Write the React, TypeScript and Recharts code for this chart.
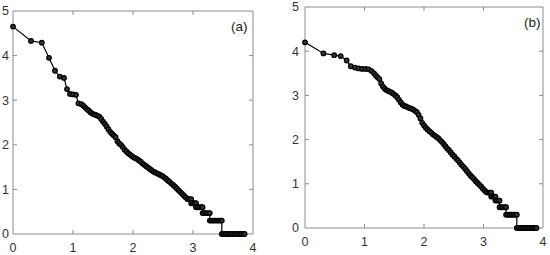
import React from 'react';
import { LineChart, Line, XAxis, YAxis, ReferenceLine } from 'recharts';

const xTicks = [0, 1, 2, 3, 4];
const yTicks = [0, 1, 2, 3, 4, 5];

const seriesA: [number, number][] = [
  [0, 4.65], [0.3, 4.33], [0.48, 4.29], [0.6, 3.95], [0.7, 3.66], [0.78, 3.53], [0.85, 3.5], [0.9, 3.25],
  [0.95, 3.14], [1.0, 3.13], [1.05, 3.12], [1.09, 2.93], [1.14, 2.91], [1.17, 2.88], [1.2, 2.84], [1.23, 2.8],
  [1.26, 2.77], [1.29, 2.73], [1.32, 2.7], [1.35, 2.68], [1.38, 2.67], [1.41, 2.65], [1.44, 2.63], [1.47, 2.58],
  [1.5, 2.52], [1.53, 2.47], [1.56, 2.41], [1.59, 2.35], [1.62, 2.29], [1.65, 2.25], [1.68, 2.21], [1.71, 2.17],
  [1.74, 2.08], [1.77, 2.03], [1.8, 2.0], [1.83, 1.95], [1.86, 1.89], [1.89, 1.85], [1.92, 1.81], [1.95, 1.78],
  [1.98, 1.75], [2.01, 1.72], [2.04, 1.7], [2.07, 1.68], [2.1, 1.65], [2.13, 1.62], [2.16, 1.58], [2.19, 1.55],
  [2.22, 1.52], [2.25, 1.49], [2.28, 1.46], [2.31, 1.43], [2.34, 1.4], [2.37, 1.38], [2.4, 1.36], [2.43, 1.34],
  [2.46, 1.32], [2.49, 1.3], [2.52, 1.27], [2.55, 1.24], [2.58, 1.2], [2.61, 1.17], [2.64, 1.13], [2.67, 1.1],
  [2.7, 1.06], [2.73, 1.02], [2.76, 0.98], [2.79, 0.94], [2.82, 0.9], [2.85, 0.86], [2.88, 0.82], [2.91, 0.78],
  [2.94, 0.78], [2.97, 0.78], [2.97, 0.69], [3.0, 0.69], [3.03, 0.69], [3.05, 0.69], [3.05, 0.6], [3.08, 0.6],
  [3.11, 0.6], [3.14, 0.6], [3.16, 0.6], [3.16, 0.47], [3.19, 0.47], [3.22, 0.47], [3.25, 0.47], [3.28, 0.47],
  [3.28, 0.3], [3.31, 0.3], [3.34, 0.3], [3.37, 0.3], [3.4, 0.3], [3.43, 0.3], [3.46, 0.3], [3.48, 0.3],
  [3.48, 0], [3.51, 0], [3.54, 0], [3.57, 0], [3.6, 0], [3.63, 0], [3.66, 0], [3.69, 0], [3.72, 0], [3.75, 0],
  [3.78, 0], [3.81, 0], [3.84, 0], [3.86, 0],
];

const seriesB: [number, number][] = [
  [0, 4.2], [0.31, 3.95], [0.49, 3.91], [0.6, 3.89], [0.7, 3.79], [0.77, 3.66], [0.84, 3.63], [0.9, 3.61],
  [0.96, 3.6], [1.02, 3.6], [1.07, 3.59], [1.12, 3.55], [1.16, 3.5], [1.19, 3.45], [1.22, 3.41], [1.25, 3.37],
  [1.28, 3.27], [1.31, 3.2], [1.34, 3.15], [1.37, 3.12], [1.4, 3.1], [1.43, 3.08], [1.46, 3.06], [1.49, 3.03],
  [1.52, 3.0], [1.55, 2.96], [1.58, 2.9], [1.61, 2.84], [1.64, 2.79], [1.67, 2.76], [1.7, 2.75], [1.73, 2.73],
  [1.76, 2.71], [1.79, 2.7], [1.82, 2.68], [1.85, 2.65], [1.88, 2.62], [1.91, 2.56], [1.94, 2.48], [1.97, 2.38],
  [2.0, 2.32], [2.03, 2.27], [2.06, 2.23], [2.09, 2.19], [2.12, 2.16], [2.15, 2.12], [2.18, 2.09], [2.21, 2.06],
  [2.24, 2.03], [2.27, 1.99], [2.3, 1.95], [2.33, 1.9], [2.36, 1.85], [2.39, 1.8], [2.42, 1.76], [2.45, 1.71],
  [2.48, 1.66], [2.51, 1.62], [2.54, 1.57], [2.57, 1.53], [2.6, 1.48], [2.63, 1.43], [2.66, 1.39], [2.69, 1.34],
  [2.72, 1.29], [2.75, 1.24], [2.78, 1.19], [2.81, 1.15], [2.84, 1.11], [2.87, 1.06], [2.9, 1.02], [2.93, 0.98],
  [2.96, 0.94], [2.99, 0.89], [3.02, 0.85], [3.05, 0.81], [3.08, 0.8], [3.11, 0.8], [3.13, 0.8], [3.13, 0.71],
  [3.16, 0.71], [3.18, 0.71], [3.2, 0.71], [3.2, 0.62], [3.23, 0.62], [3.26, 0.62], [3.27, 0.62], [3.27, 0.47],
  [3.3, 0.47], [3.33, 0.47], [3.36, 0.47], [3.38, 0.47], [3.38, 0.3], [3.41, 0.3], [3.44, 0.3], [3.47, 0.3],
  [3.5, 0.3], [3.53, 0.3], [3.56, 0.3], [3.56, 0], [3.59, 0], [3.62, 0], [3.65, 0], [3.68, 0], [3.71, 0],
  [3.74, 0], [3.77, 0], [3.8, 0], [3.83, 0], [3.86, 0], [3.89, 0],
];

const FONT = '"Liberation Sans", Arial, sans-serif';
const AXIS = '#8c8c8c';
const TEXT = '#333333';
const X_MAX = 4;
const Y_MAX = 5;
const X_TICK_LEN = 0.09; // in y units (~4px)
const Y_TICK_LEN = 0.067; // in x units (~4px)

type PanelProps = {
  series: [number, number][];
  label: string;
  margin: { top: number; right: number; bottom: number; left: number };
  yMargin: number;
  labelPos: { left: number; top: number };
};

function Panel({ series, label, margin, yMargin, labelPos }: PanelProps) {
  const data = series.map(([x, y]) => ({ x, y }));
  const tickStyle = { fill: TEXT, fontSize: 12.5, fontFamily: FONT };
  return (
    <div style={{ position: 'relative', width: 275, height: 255 }}>
      <LineChart width={275} height={255} data={data} margin={margin}>
        <XAxis
          dataKey="x"
          type="number"
          domain={[0, X_MAX]}
          ticks={xTicks}
          interval={0}
          height={21}
          axisLine={false}
          tickLine={false}
          tickSize={-4}
          tickMargin={13}
          tick={tickStyle}
        />
        <YAxis
          type="number"
          domain={[0, Y_MAX]}
          ticks={yTicks}
          interval={0}
          width={13}
          axisLine={false}
          tickLine={false}
          tickSize={-4}
          tickMargin={yMargin}
          tick={tickStyle}
        />
        <ReferenceLine x={0} stroke={AXIS} strokeWidth={1} />
        <ReferenceLine x={X_MAX} stroke={AXIS} strokeWidth={1} />
        <ReferenceLine y={0} stroke={AXIS} strokeWidth={1} />
        <ReferenceLine y={Y_MAX} stroke={AXIS} strokeWidth={1} />
        {xTicks.slice(1, -1).map((t) => (
          <ReferenceLine key={`xb${t}`} segment={[{ x: t, y: 0 }, { x: t, y: X_TICK_LEN }]} stroke={AXIS} />
        ))}
        {xTicks.slice(1, -1).map((t) => (
          <ReferenceLine key={`xt${t}`} segment={[{ x: t, y: Y_MAX }, { x: t, y: Y_MAX - X_TICK_LEN }]} stroke={AXIS} />
        ))}
        {yTicks.slice(1, -1).map((t) => (
          <ReferenceLine key={`yl${t}`} segment={[{ x: 0, y: t }, { x: Y_TICK_LEN, y: t }]} stroke={AXIS} />
        ))}
        {yTicks.slice(1, -1).map((t) => (
          <ReferenceLine key={`yr${t}`} segment={[{ x: X_MAX, y: t }, { x: X_MAX - Y_TICK_LEN, y: t }]} stroke={AXIS} />
        ))}
        <Line
          dataKey="y"
          type="linear"
          stroke="#000"
          strokeWidth={1.2}
          dot={{ r: 2.3, stroke: '#000', strokeWidth: 1.2, fill: '#333' }}
          isAnimationActive={false}
        />
      </LineChart>
      <div
        style={{
          position: 'absolute',
          left: labelPos.left,
          top: labelPos.top,
          fontFamily: FONT,
          fontSize: 13.5,
          color: '#222',
          lineHeight: '14px',
        }}
      >
        {label}
      </div>
    </div>
  );
}

export default function App() {
  return (
    <div style={{ position: 'absolute', left: 0, top: 0, width: 550, height: 255, display: 'flex', background: '#fff' }}>
      <Panel
        series={seriesA}
        label="(a)"
        margin={{ top: 11, right: 22, bottom: 0, left: 0 }}
        yMargin={8}
        labelPos={{ left: 231, top: 20 }}
      />
      <Panel
        series={seriesB}
        label="(b)"
        margin={{ top: 7, right: 7, bottom: 6, left: 17 }}
        yMargin={10}
        labelPos={{ left: 249, top: 16 }}
      />
    </div>
  );
}
